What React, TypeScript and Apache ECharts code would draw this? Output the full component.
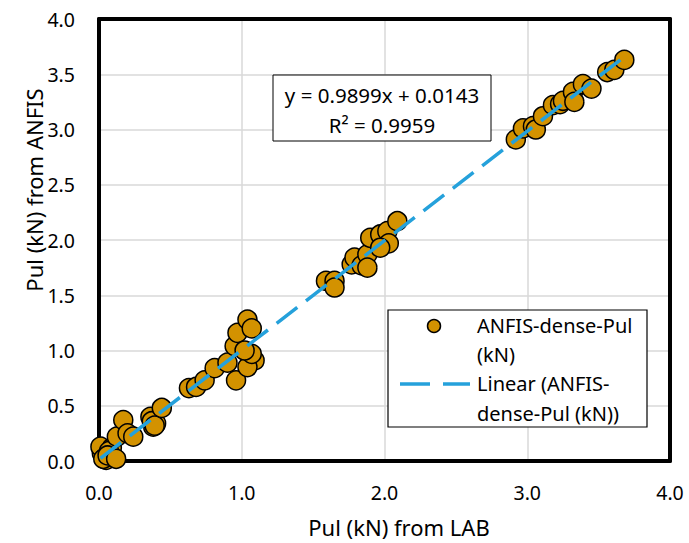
import React, { useEffect, useRef } from "react";
import * as echarts from "echarts";

const labX = [
  0.02, 0.05, 0.1, 0.01, 0.09, 0.04, 0.07, 0.03, 0.06, 0.12, 0.125, 0.17, 0.2, 0.24, 0.36, 0.38, 0.4, 0.37, 0.39, 0.44,
  0.63, 0.68, 0.74, 0.81, 0.9, 0.96, 0.95, 0.97, 1.04, 1.07, 1.09, 1.04, 1.07, 1.02,
  1.59, 1.65, 1.65, 1.77, 1.79, 1.84, 1.88, 1.88, 1.9, 1.97, 2.02, 2.03, 2.09, 1.97,
  2.92, 2.97, 3.04, 3.06, 3.11, 3.18, 3.23, 3.25, 3.32, 3.33, 3.39, 3.45, 3.56, 3.61, 3.68,
];
const anfisY = [
  0.07, 0.01, 0.04, 0.13, 0.12, 0.03, 0.09, 0.02, 0.05, 0.02, 0.22, 0.37, 0.25, 0.22, 0.4, 0.31, 0.34, 0.36, 0.32, 0.48,
  0.66, 0.67, 0.73, 0.84, 0.89, 0.73, 1.04, 1.16, 1.28, 1.2, 0.91, 0.85, 0.97, 1.0,
  1.63, 1.63, 1.57, 1.78, 1.84, 1.77, 1.87, 1.75, 2.02, 2.05, 2.08, 1.97, 2.17, 1.93,
  2.91, 3.01, 3.03, 3.0, 3.12, 3.22, 3.23, 3.26, 3.34, 3.25, 3.41, 3.37, 3.52, 3.54, 3.63,
];
const xTicks = [0, 1, 2, 3, 4];
const yTicks = [0, 0.5, 1, 1.5, 2, 2.5, 3, 3.5, 4];
const slope = 0.9899;
const intercept = 0.0143;
const rSquared = 0.9959;
const seriesName = "ANFIS-dense-Pul (kN)";
const legendLines = ["ANFIS-dense-Pul", "(kN)", "Linear (ANFIS-", "dense-Pul (kN))"];

const FONT = "'Noto Sans', 'Open Sans', sans-serif";
const GOLD = "#d39200";
const BLUE = "#25a1db";

export default function App() {
  const ref = useRef<HTMLDivElement>(null);
  useEffect(() => {
    if (!ref.current) return;
    const chart = echarts.init(ref.current, undefined, { renderer: "svg" });
    const pts = labX.map((x, i) => [x, anfisY[i]]);
    const xmin = Math.min(...labX);
    const xmax = Math.max(...labX);
    const trend = [
      [xmin, slope * xmin + intercept],
      [xmax, slope * xmax + intercept],
    ];
    const frameAxis = {
      type: "value",
      min: xTicks[0],
      max: xTicks[xTicks.length - 1],
      z: 1,
      axisLine: { show: true, onZero: false, lineStyle: { color: "#000", width: 4 } },
      axisTick: { show: false },
      axisLabel: { show: false },
      splitLine: { show: false },
    };
    const frameYAxis = { ...frameAxis, min: yTicks[0], max: yTicks[yTicks.length - 1] };
    const tickLabel = {
      fontSize: 19.5,
      fontFamily: FONT,
      color: "#000",
      formatter: (v: number) => v.toFixed(1),
    };
    chart.setOption({
      animation: false,
      backgroundColor: "#fff",
      grid: { left: 99, right: 19, top: 19, bottom: 82 },
      xAxis: [
        {
          type: "value",
          min: xTicks[0],
          max: xTicks[xTicks.length - 1],
          interval: 1,
          axisLine: { show: false },
          axisTick: { show: false },
          axisLabel: { ...tickLabel, margin: 21 },
          splitLine: { show: true, lineStyle: { color: "#d9d9d9", width: 1.5 } },
        },
        { ...frameAxis, position: "bottom" },
        { ...frameAxis, position: "top" },
      ],
      yAxis: [
        {
          type: "value",
          min: yTicks[0],
          max: yTicks[yTicks.length - 1],
          interval: 0.5,
          axisLine: { show: false },
          axisTick: { show: false },
          axisLabel: { ...tickLabel, margin: 24 },
          splitLine: { show: true, lineStyle: { color: "#d9d9d9", width: 1.5 } },
        },
        { ...frameYAxis, position: "left" },
        { ...frameYAxis, position: "right" },
      ],
      series: [
        {
          name: seriesName,
          type: "scatter",
          data: pts,
          symbol: "circle",
          symbolSize: 19,
          z: 2,
          itemStyle: { color: GOLD, borderColor: "#000", borderWidth: 1.5, opacity: 1 },
        },
        {
          name: "Linear (" + seriesName + ")",
          type: "line",
          data: trend,
          symbol: "none",
          z: 3,
          lineStyle: { color: BLUE, width: 3.5, type: [26, 11] },
        },
      ],
      graphic: [
        {
          type: "text",
          x: 399,
          y: 527,
          style: {
            text: "Pul (kN) from LAB",
            fontSize: 22,
            fontFamily: FONT,
            fill: "#000",
            align: "center",
            verticalAlign: "middle",
          },
        },
        {
          type: "text",
          x: 34,
          y: 190,
          rotation: Math.PI / 2,
          style: {
            text: "Pul (kN) from ANFIS",
            fontSize: 22,
            fontFamily: FONT,
            fill: "#000",
            align: "center",
            verticalAlign: "middle",
          },
        },
        {
          type: "rect",
          z: 10,
          shape: { x: 273, y: 75, width: 218, height: 66 },
          style: { fill: "#fff", stroke: "#000", lineWidth: 1 },
        },
        {
          type: "text",
          z: 11,
          x: 382,
          y: 95,
          style: {
            text: "y = " + slope.toFixed(4) + "x + " + intercept.toFixed(4),
            fontSize: 20.5,
            fontFamily: FONT,
            fill: "#000",
            align: "center",
            verticalAlign: "middle",
          },
        },
        {
          type: "text",
          z: 11,
          x: 382,
          y: 125,
          style: {
            text: "R² = " + rSquared.toFixed(4),
            fontSize: 20.5,
            fontFamily: FONT,
            fill: "#000",
            align: "center",
            verticalAlign: "middle",
          },
        },
        {
          type: "rect",
          z: 10,
          shape: { x: 388, y: 310, width: 259, height: 117 },
          style: { fill: "#fff", stroke: "#000", lineWidth: 1.2 },
        },
        {
          type: "circle",
          z: 11,
          shape: { cx: 434, cy: 326, r: 6.5 },
          style: { fill: GOLD, stroke: "#000", lineWidth: 1.5 },
        },
        {
          type: "line",
          z: 11,
          shape: { x1: 400, y1: 384, x2: 470, y2: 384 },
          style: { stroke: BLUE, lineWidth: 3.5, lineDash: [30, 13] },
        },
        ...legendLines.map((t, i) => ({
          type: "text",
          z: 11,
          x: 477,
          y: [325, 354, 383, 413][i],
          style: {
            text: t,
            fontSize: 20,
            fontFamily: FONT,
            fill: "#000",
            align: "left",
            verticalAlign: "middle",
          },
        })),
      ],
    });
    return () => chart.dispose();
  }, []);
  return (
    <div
      ref={ref}
      style={{ position: "absolute", left: 0, top: 0, width: 689, height: 543, background: "#fff" }}
    />
  );
}
